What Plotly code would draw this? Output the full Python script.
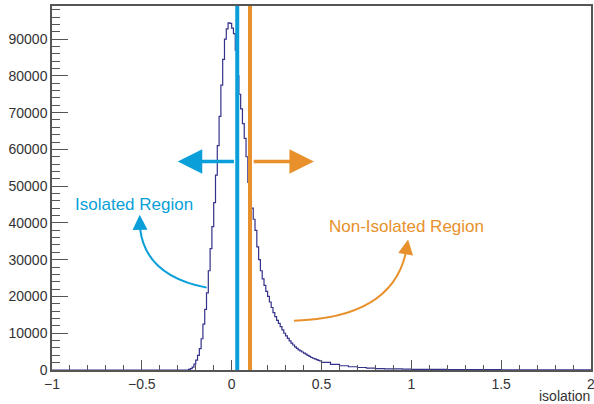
import plotly.graph_objects as go

# ---------------- data ----------------
# bin low edges (fine 0.01 bins around the peak, coarser in the tail)
fine_edges = [round(-0.25 + 0.01 * i, 2) for i in range(75)]  # -0.25 ... 0.49
fine_counts = [
    0, 150, 400, 800, 1600, 2700, 4000, 5800, 8500, 12500,
    16500, 21000, 27000, 33000, 39000, 45500, 53000, 61000, 69000, 77500,
    84500, 90000, 92800, 94400, 94300, 93000, 91500, 87000, 80000, 75000,
    71000, 67000, 63000, 58000, 51000, 47000, 44000, 41000, 38000, 33500,
    30000, 27000, 24800, 23000, 21400, 20000, 18500, 17000, 15600, 14500,
    13500, 12700, 11800, 10900, 10000, 9300, 8600, 7900, 7300, 6800,
    6300, 5900, 5500, 5200, 4900, 4600, 4300, 4000, 3700, 3400,
    3200, 3000, 2800, 2600, 2450,
]
tail_edges = [0.50, 0.55, 0.60, 0.65, 0.70, 0.75, 0.80, 0.85, 0.90, 0.95,
              1.00, 1.10, 1.20, 1.30, 1.40, 1.50, 1.60, 1.70, 1.80, 1.90]
tail_counts = [2100, 1550, 1150, 880, 680, 520, 400, 330, 280, 240,
               190, 150, 120, 100, 80, 65, 55, 45, 40, 35]
x_min, x_max = -1.0, 2.0

iso_cut = 0.031
noniso_cut = 0.102

x_ticks = [-1, -0.5, 0, 0.5, 1, 1.5, 2]
x_tick_text = ["\u22121", "\u22120.5", "0", "0.5", "1", "1.5", "2"]
y_ticks = [0, 10000, 20000, 30000, 40000, 50000, 60000, 70000, 80000, 90000]
y_tick_text = [str(v) for v in y_ticks]

BLUE = "#0a9fd9"
ORANGE = "#e8912c"
HIST = "#34318a"
FONT = "Liberation Sans, Arial, sans-serif"

# ---------------- figure ----------------
xs = [x_min] + fine_edges + tail_edges + [x_max]
ys = [0] + fine_counts + tail_counts + [tail_counts[-1]]

fig = go.Figure()
fig.add_trace(go.Scatter(x=xs, y=ys, mode="lines", line=dict(color=HIST, width=1.2, shape="hv"),
                         hoverinfo="skip", showlegend=False))

# cut lines
for xc, col in [(iso_cut, BLUE), (noniso_cut, ORANGE)]:
    fig.add_shape(type="line", x0=xc, x1=xc, y0=0, y1=1, xref="x", yref="paper",
                  line=dict(color=col, width=4))

arrow_y = 56700
# straight arrows
fig.add_annotation(x=-0.30, y=arrow_y, ax=iso_cut - 0.01, ay=arrow_y, axref="x", ayref="y",
                   xref="x", yref="y", text="", showarrow=True, arrowhead=2, arrowsize=1.4,
                   arrowwidth=3.5, arrowcolor=BLUE)
fig.add_annotation(x=0.458, y=arrow_y, ax=noniso_cut + 0.012, ay=arrow_y, axref="x", ayref="y",
                   xref="x", yref="y", text="", showarrow=True, arrowhead=2, arrowsize=1.4,
                   arrowwidth=3.5, arrowcolor=ORANGE)

# curved arrows
fig.add_shape(type="path", xref="x", yref="y",
              path="M -0.139,22400 Q -0.48,25590 -0.51,38500",
              line=dict(color=BLUE, width=2))
fig.add_annotation(x=-0.512, y=42200, ax=0.3, ay=12, xref="x", yref="y", text="", showarrow=True,
                   arrowhead=2, arrowsize=1.5, arrowwidth=2, arrowcolor=BLUE)
fig.add_shape(type="path", xref="x", yref="y",
              path="M 0.347,13420 Q 0.89,14150 0.97,32000",
              line=dict(color=ORANGE, width=2))
fig.add_annotation(x=0.982, y=35500, ax=-2, ay=12, xref="x", yref="y", text="", showarrow=True,
                   arrowhead=2, arrowsize=1.5, arrowwidth=2, arrowcolor=ORANGE)

fig.add_annotation(x=-0.545, y=45000, xref="x", yref="y", text="Isolated Region", showarrow=False,
                   font=dict(color=BLUE, size=17, family=FONT))
fig.add_annotation(x=0.975, y=39000, xref="x", yref="y", text="Non-Isolated Region", showarrow=False,
                   font=dict(color=ORANGE, size=17, family=FONT))

fig.add_annotation(x=1, y=0, xref="paper", yref="paper", xanchor="right", yanchor="middle",
                   xshift=1, yshift=-26, text="isolation", showarrow=False,
                   font=dict(color="#333333", size=14, family=FONT))

axis_common = dict(showgrid=False, zeroline=False, showline=True, mirror=True, automargin=False,
                   linecolor="#555555", linewidth=1.5, ticks="inside", tickcolor="#555555",
                   ticklabeloverflow="allow",
                   tickfont=dict(color="#333333", size=14, family=FONT))

fig.update_xaxes(range=[x_min, x_max], tickvals=x_ticks, ticktext=x_tick_text, ticklen=10, tickwidth=1.3,
                 minor=dict(dtick=0.1, ticklen=5, ticks="inside", tickcolor="#555555", tickwidth=1.3),
                 **axis_common)
fig.update_yaxes(range=[0, 99000], tickvals=y_ticks, ticktext=y_tick_text, ticklen=16, tickwidth=1.3,
                 minor=dict(dtick=2000, ticklen=8, ticks="inside", tickcolor="#555555", tickwidth=1.3),
                 **axis_common)

fig.update_layout(width=594, height=404, margin=dict(l=52, r=3, t=6, b=34),
                  plot_bgcolor="white", paper_bgcolor="white")

fig.write_html("out.html", config={"displayModeBar": False},
               post_script="document.body.style.margin='0';")
